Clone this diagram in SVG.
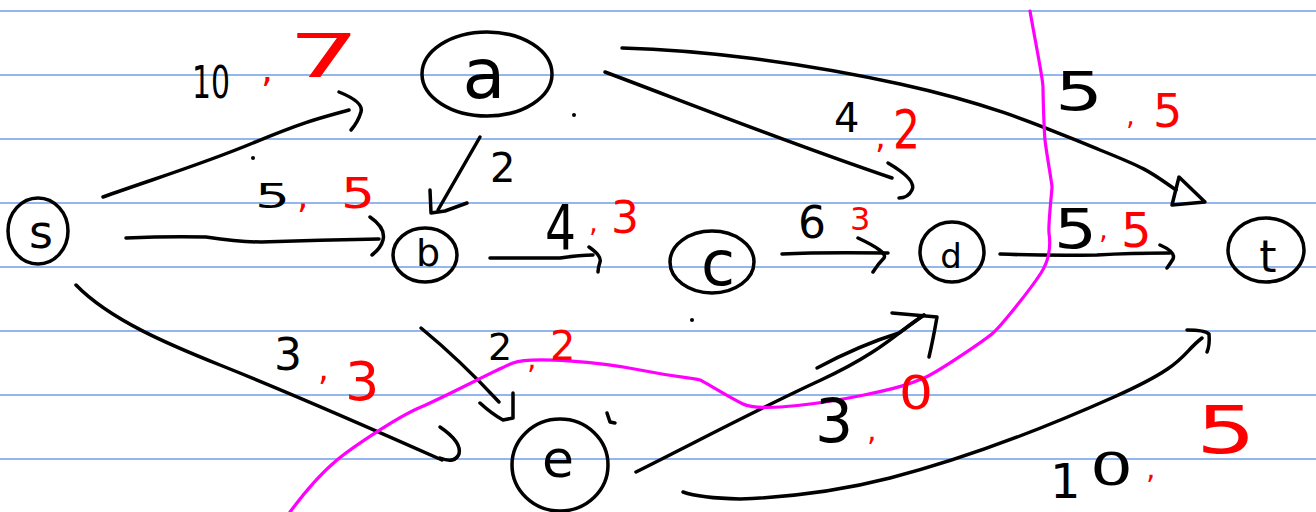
<svg xmlns="http://www.w3.org/2000/svg" width="1316" height="512" viewBox="0 0 1316 512">
<style>
.rule{stroke:#6f9fe6;stroke-width:1.6}
.ink{fill:none;stroke:#000;stroke-width:3.5;stroke-linecap:round;stroke-linejoin:round}
.cut{fill:none;stroke:#ff00ff;stroke-width:3.2;stroke-linecap:round;stroke-linejoin:round}
.n{fill:none;stroke:#000;stroke-width:3.5}
.k{font-family:"DejaVu Sans",sans-serif;fill:#000}
.r{font-family:"DejaVu Sans",sans-serif;fill:#ff0000}
.lt{font-family:"DejaVu Sans",sans-serif;fill:#000;text-anchor:middle}
</style>
<rect width="1316" height="512" fill="#fff"/>
<g id="paper">
<line class="rule" x1="0" y1="11" x2="1316" y2="11"/>
<line class="rule" x1="0" y1="75" x2="1316" y2="75"/>
<line class="rule" x1="0" y1="139" x2="1316" y2="139"/>
<line class="rule" x1="0" y1="203" x2="1316" y2="203"/>
<line class="rule" x1="0" y1="267" x2="1316" y2="267"/>
<line class="rule" x1="0" y1="331" x2="1316" y2="331"/>
<line class="rule" x1="0" y1="395" x2="1316" y2="395"/>
<line class="rule" x1="0" y1="459" x2="1316" y2="459"/>
</g>
<g id="connectors">
<path class="ink" d="M103,197 C150,180 200,165 253,143 S320,118 349,110"/>
<path class="ink" d="M339,92 Q364,102 361,112 Q358,122 351,130"/>
<path class="ink" d="M126,238 Q170,236 206,237 Q240,242 261,242 Q320,240 379,239"/>
<path class="ink" d="M370,217 Q386,228 383,240 Q381,248 372,255"/>
<path class="ink" d="M76,285 C110,320 170,345 220,365 S370,428 442,460"/>
<path class="ink" d="M440,427 Q462,442 459,454 Q455,464 440,458"/>
<path class="ink" d="M480,137 L438,210"/>
<path class="ink" d="M430,190 L431,213 L445,211 L467,203"/>
<path class="ink" d="M605,72 C680,100 780,140 892,178"/>
<path class="ink" d="M888,163 Q917,180 912,190 Q908,198 899,198"/>
<path class="ink" d="M622,48 C700,50 800,62 900,84 S1050,130 1100,150 S1150,172 1176,190"/>
<path class="ink" d="M1179,177 L1172,205 L1205,202 Z"/>
<path class="ink" d="M490,258 Q530,258 560,258 Q580,255 593,255"/>
<path class="ink" d="M589,247 Q602,256 600,262 Q598,268 598,272"/>
<path class="ink" d="M782,254 Q820,252 888,253"/>
<path class="ink" d="M858,238 Q888,252 884,258 Q878,264 873,272"/>
<path class="ink" d="M1000,254 Q1050,256 1097,255 Q1130,253 1170,253"/>
<path class="ink" d="M1160,245 Q1176,252 1173,259 Q1170,264 1167,268"/>
<path class="ink" d="M421,328 Q460,360 499,402"/>
<path class="ink" d="M480,403 Q492,414 503,420 L513,418 L513,393"/>
<path class="ink" d="M636,472 C700,440 760,408 821,380 S900,330 924,315"/>
<path class="ink" d="M817,368 Q860,345 899,333 L924,315"/>
<path class="ink" d="M892,313 L937,317 Q933,340 929,357"/>
<path class="ink" d="M683,492 Q700,498 740,499 Q820,496 890,478 C960,460 1040,430 1114,397 S1180,355 1202,338"/>
<path class="ink" d="M1187,330 Q1205,330 1209,334 Q1210,345 1207,352"/>
</g>
<g id="dots" fill="#000">
<circle cx="253" cy="158" r="2"/>
<circle cx="574" cy="115" r="2"/>
<circle cx="692" cy="320" r="2"/>
<path class="ink" d="M607,413 L610,422 L615,423"/>
</g>
<g id="node-s"><ellipse class="n" cx="38" cy="231" rx="30" ry="33"/><text class="lt" x="41" y="248" font-size="46">s</text></g>
<g id="node-a"><ellipse class="n" cx="487" cy="74" rx="65" ry="42"/><text class="lt" x="484" y="98" font-size="70">a</text></g>
<g id="node-b"><ellipse class="n" cx="425" cy="255" rx="32" ry="27"/><text class="lt" x="428" y="266" font-size="38">b</text></g>
<g id="node-c"><ellipse class="n" cx="712" cy="262" rx="42" ry="31"/><text class="lt" x="718" y="285" font-size="62">c</text></g>
<g id="node-d"><ellipse class="n" cx="952" cy="252" rx="32" ry="30"/><text class="lt" x="951" y="268" font-size="34">d</text></g>
<g id="node-t"><ellipse class="n" cx="1266" cy="250" rx="38" ry="32"/><text class="lt" x="1268" y="272" font-size="44">t</text></g>
<g id="node-e"><ellipse class="n" cx="560" cy="465" rx="48" ry="46"/><text class="lt" x="558" y="477" font-size="52">e</text></g>
<g id="cut">
<path class="cut" d="M290,512 C310,485 325,470 337,460 S395,418 421,407 S495,370 513,363 S600,362 640,370 S695,378 700,380 S725,395 743,404 S830,402 864,395 S910,384 924,378 S985,340 993,333 S1030,290 1041,273 S1050,240 1049,233 S1052,190 1052,187 S1046,150 1045,140 S1043,95 1043,87 S1035,40 1030,11"/>
</g>
<g id="labels">
<text class="k" x="192" y="98" font-size="44" textLength="38" lengthAdjust="spacingAndGlyphs">10</text>
<text class="r" x="261" y="82" font-size="38">,</text>
<text class="r" x="288" y="77" font-size="60" textLength="72" lengthAdjust="spacingAndGlyphs">7</text>

<text class="k" x="255" y="208" font-size="34" textLength="35" lengthAdjust="spacingAndGlyphs">5</text>
<text class="r" x="297" y="208" font-size="36">,</text>
<text class="r" x="341" y="208" font-size="42" textLength="34" lengthAdjust="spacingAndGlyphs">5</text>

<text class="k" x="490" y="182" font-size="40">2</text>

<text class="k" x="834" y="132" font-size="40">4</text>
<text class="r" x="875" y="148" font-size="34">,</text>
<text class="r" x="893" y="148" font-size="54" textLength="27" lengthAdjust="spacingAndGlyphs">2</text>

<text class="k" x="1055" y="110" font-size="54" textLength="48" lengthAdjust="spacingAndGlyphs">5</text>
<text class="r" x="1126" y="125" font-size="28">,</text>
<text class="r" x="1153" y="127" font-size="46">5</text>

<text class="k" x="545" y="250" font-size="62" textLength="31" lengthAdjust="spacingAndGlyphs">4</text>
<text class="r" x="589" y="232" font-size="28">,</text>
<text class="r" x="611" y="233" font-size="44">3</text>

<text class="k" x="798" y="238" font-size="44">6</text>
<text class="r" x="850" y="230" font-size="32">3</text>

<text class="k" x="1054" y="248" font-size="56" textLength="43" lengthAdjust="spacingAndGlyphs">5</text>
<text class="r" x="1099" y="239" font-size="28">,</text>
<text class="r" x="1121" y="247" font-size="48">5</text>

<text class="k" x="274" y="370" font-size="44">3</text>
<text class="r" x="318" y="380" font-size="34">,</text>
<text class="r" x="345" y="400" font-size="54">3</text>

<text class="k" x="488" y="360" font-size="38">2</text>
<text class="r" x="527" y="368" font-size="30">,</text>
<text class="r" x="550" y="360" font-size="40">2</text>

<text class="k" x="815" y="442" font-size="60">3</text>
<text class="r" x="867" y="440" font-size="30">,</text>
<text class="r" x="899" y="409" font-size="46" textLength="34" lengthAdjust="spacingAndGlyphs">0</text>

<text class="k" x="1050" y="498" font-size="48">1</text>
<text class="k" x="1090" y="485" font-size="44" textLength="43" lengthAdjust="spacingAndGlyphs">0</text>
<text class="r" x="1146" y="478" font-size="30">,</text>
<text class="r" x="1196" y="453" font-size="66" textLength="60" lengthAdjust="spacingAndGlyphs">5</text>
</g>
</svg>
